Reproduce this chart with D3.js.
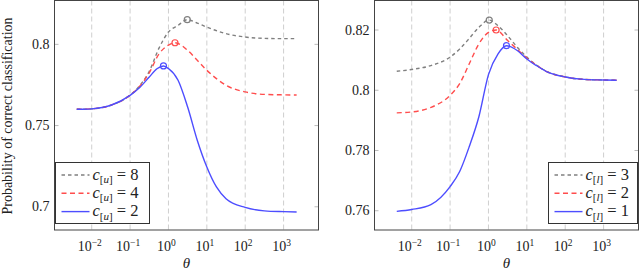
<!DOCTYPE html>
<html>
<head>
<meta charset="utf-8">
<script src="https://cdn.jsdelivr.net/npm/d3@7"></script>
<style>
  body { margin: 0; background: #fff; }
  svg { display: block; }
</style>
</head>
<body>
<svg id="chart" width="640" height="271"></svg>
<script>
// exponents of theta (theta = 10^e) and read-off probabilities
const leftGrayExp = [-2.39, -2, -1.5, -1, -0.75, -0.5, -0.25, 0, 0.25, 0.49, 0.75, 1, 1.5, 2, 2.5, 3, 3.34];
const leftGrayVal = [0.7600, 0.7603, 0.7625, 0.7688, 0.7745, 0.7834, 0.7975, 0.8076, 0.8117, 0.8152, 0.8131, 0.8106, 0.8066, 0.8045, 0.8037, 0.8035, 0.8035];
const leftRedExp = [-2.39, -2, -1.5, -1, -0.75, -0.5, -0.25, 0, 0.17, 0.5, 0.75, 1, 1.25, 1.5, 2, 2.5, 3, 3.34];
const leftRedVal = [0.7600, 0.7603, 0.7625, 0.7687, 0.7742, 0.7825, 0.7940, 0.7995, 0.8010, 0.7963, 0.7902, 0.7840, 0.7789, 0.7748, 0.7707, 0.7692, 0.7689, 0.7688];
const leftBlueExp = [-2.39, -2, -1.5, -1, -0.75, -0.5, -0.3, -0.13, 0, 0.25, 0.5, 0.75, 1, 1.25, 1.5, 2, 2.5, 3, 3.34];
const leftBlueVal = [0.7600, 0.7603, 0.7625, 0.7686, 0.7734, 0.7799, 0.7850, 0.7867, 0.7851, 0.7779, 0.7614, 0.7410, 0.7245, 0.7122, 0.7050, 0.6996, 0.6975, 0.6970, 0.6968];
const leftPeaks = [[0.49, 0.8152], [0.17, 0.8010], [-0.13, 0.7867]];

const rightGrayExp = [-2.39, -2, -1.5, -1, -0.75, -0.5, -0.25, 0.02, 0.25, 0.5, 0.75, 1, 1.25, 1.5, 2, 2.5, 3, 3.34];
const rightGrayVal = [0.8063, 0.8069, 0.8082, 0.8110, 0.8137, 0.8172, 0.8209, 0.8233, 0.8214, 0.8181, 0.8143, 0.8110, 0.8084, 0.8064, 0.8044, 0.8036, 0.8034, 0.8033];
const rightRedExp = [-2.39, -2, -1.5, -1, -0.75, -0.5, -0.25, 0, 0.2, 0.5, 0.75, 1, 1.25, 1.5, 2, 2.5, 3, 3.34];
const rightRedVal = [0.7925, 0.7928, 0.7943, 0.7983, 0.8022, 0.8088, 0.8154, 0.8192, 0.8200, 0.8165, 0.8136, 0.8107, 0.8083, 0.8063, 0.8044, 0.8036, 0.8034, 0.8033];
const rightBlueExp = [-2.39, -2, -1.5, -1, -0.75, -0.5, -0.25, 0, 0.25, 0.47, 0.75, 1, 1.25, 1.5, 2, 2.5, 3, 3.34];
const rightBlueVal = [0.7598, 0.7604, 0.7620, 0.7680, 0.7730, 0.7813, 0.7912, 0.8052, 0.8121, 0.8148, 0.8132, 0.8104, 0.8082, 0.8063, 0.8044, 0.8036, 0.8034, 0.8033];
const rightPeaks = [[0.02, 0.8233], [0.2, 0.8200], [0.47, 0.8148]];

const xTickExp = [-2, -1, 0, 1, 2, 3];
const leftYTicks = [0.7, 0.75, 0.8];
const rightYTicks = [0.76, 0.78, 0.8, 0.82];
const leftLabels = ["8", "4", "2"];
const rightLabels = ["3", "2", "1"];

const colors = ["#808080", "#ff4d4d", "#4d4dff"];
const dashes = ["3.5,3", "5,3.5", null];

const svg = d3.select("#chart").style("font-family", "'Liberation Serif', serif");
const plotTop = 0.5, plotBottom = 230;

function panel(opts) {
  const g = svg.append("g");
  const x = d3.scaleLog().domain([10 ** -2.97, 10 ** 3.91]).range([opts.left, opts.right]);
  const y = d3.scaleLinear().domain(opts.yDomain).range([plotBottom, plotTop]);

  // vertical dashed grid
  g.selectAll(".grid").data(xTickExp).enter().append("line")
    .attr("x1", d => x(10 ** d)).attr("x2", d => x(10 ** d))
    .attr("y1", plotTop).attr("y2", plotBottom)
    .attr("stroke", "#cfcfcf").attr("stroke-width", 1)
    .attr("stroke-dasharray", "5,3");

  // y ticks inside both sides
  opts.yTicks.forEach(t => {
    [[opts.left, opts.left + 4], [opts.right - 4, opts.right]].forEach(([a, b]) => {
      g.append("line").attr("x1", a).attr("x2", b)
        .attr("y1", y(t)).attr("y2", y(t))
        .attr("stroke", "#bbb").attr("stroke-width", 1);
    });
    g.append("text").attr("x", opts.left - 5).attr("y", y(t) + 4.5)
      .attr("text-anchor", "end").attr("font-size", 14).attr("fill", "#222")
      .text(String(t));
  });

  // x tick labels 10^e
  xTickExp.forEach(e => {
    const t = g.append("text").attr("x", x(10 ** e) - 2).attr("y", 251)
      .attr("text-anchor", "middle").attr("font-size", 14).attr("fill", "#222");
    t.append("tspan").text("10");
    t.append("tspan").attr("font-size", 9.5).attr("dy", -5.5).text(e < 0 ? "\u2212" + (-e) : e);
  });

  g.append("text").attr("x", (opts.left + opts.right) / 2).attr("y", 268)
    .attr("text-anchor", "middle").attr("font-size", 15).attr("font-style", "italic")
    .attr("fill", "#222").text("\u03b8");

  const line = d3.line()
    .x(d => x(10 ** d[0])).y(d => y(d[1]))
    .curve(d3.curveMonotoneX);

  opts.series.forEach((s, i) => {
    g.append("path").datum(d3.zip(s.exp, s.val))
      .attr("d", line).attr("fill", "none")
      .attr("stroke", colors[i]).attr("stroke-width", 1.4)
      .attr("stroke-dasharray", dashes[i]);
  });
  opts.peaks.forEach((p, i) => {
    g.append("circle").attr("cx", x(10 ** p[0])).attr("cy", y(p[1])).attr("r", 3)
      .attr("fill", "none").attr("stroke", colors[i]).attr("stroke-width", 1.2);
  });

  // frame
  g.append("rect").attr("x", opts.left).attr("y", plotTop)
    .attr("width", opts.right - opts.left).attr("height", plotBottom - plotTop)
    .attr("fill", "none").attr("stroke", "#444").attr("stroke-width", 1);

  // legend
  const lg = g.append("g");
  const L = opts.legend;
  lg.append("rect").attr("x", L.x).attr("y", 162.5).attr("width", L.w).attr("height", 61)
    .attr("fill", "#fff").attr("stroke", "#333").attr("stroke-width", 1);
  opts.labels.forEach((lab, i) => {
    const yy = 175 + i * 18.3;
    lg.append("line").attr("x1", L.x + 6).attr("x2", L.x + 34)
      .attr("y1", yy).attr("y2", yy)
      .attr("stroke", colors[i]).attr("stroke-width", 1.4)
      .attr("stroke-dasharray", dashes[i]);
    const t = lg.append("text").attr("x", L.x + 37).attr("y", yy + 4.5)
      .attr("font-size", 16.5).attr("fill", "#222");
    t.append("tspan").attr("font-style", "italic").text("c");
    const sub = t.append("tspan").attr("font-size", 11).attr("dy", 3.5);
    sub.append("tspan").text("[");
    sub.append("tspan").attr("font-style", "italic").text(opts.sub);
    sub.append("tspan").text("]");
    t.append("tspan").attr("dy", -3.5).text(" = " + lab);
  });
}

panel({
  left: 54.5, right: 318.5, yDomain: [0.6857, 0.8270],
  yTicks: leftYTicks,
  series: [
    { exp: leftGrayExp, val: leftGrayVal },
    { exp: leftRedExp, val: leftRedVal },
    { exp: leftBlueExp, val: leftBlueVal }
  ],
  peaks: leftPeaks, labels: leftLabels, sub: "u",
  legend: { x: 55.5, w: 94 }
});

panel({
  left: 374.5, right: 638.5, yDomain: [0.7536, 0.8298],
  yTicks: rightYTicks,
  series: [
    { exp: rightGrayExp, val: rightGrayVal },
    { exp: rightRedExp, val: rightRedVal },
    { exp: rightBlueExp, val: rightBlueVal }
  ],
  peaks: rightPeaks, labels: rightLabels, sub: "l",
  legend: { x: 548.5, w: 89 }
});

svg.append("text")
  .attr("transform", "translate(12,116) rotate(-90)")
  .attr("text-anchor", "middle").attr("font-size", 14).attr("fill", "#222")
  .text("Probability of correct classification");
</script>
</body>
</html>
